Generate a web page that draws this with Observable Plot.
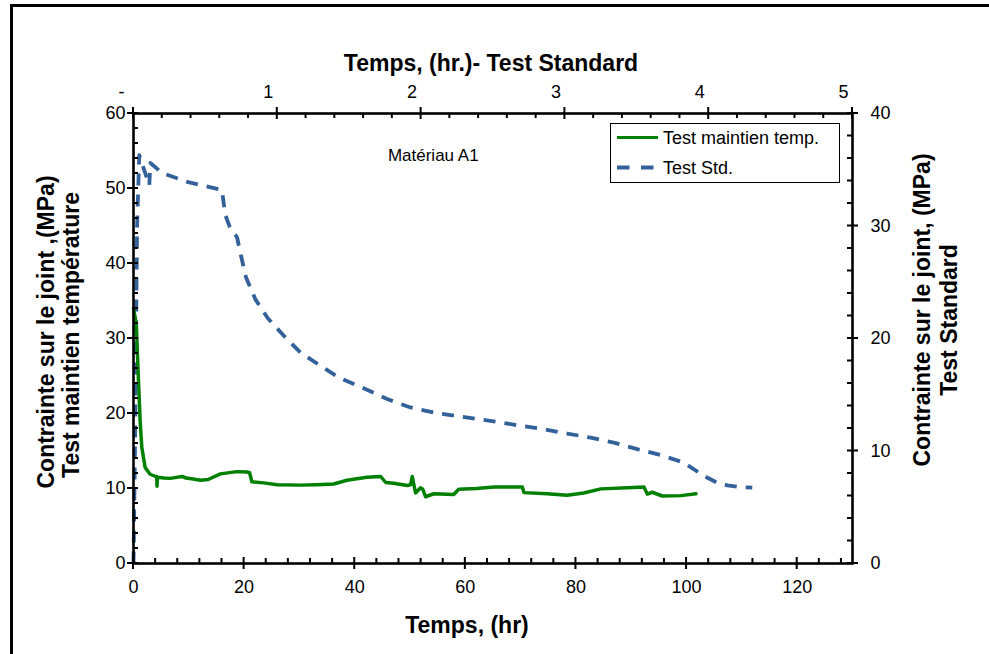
<!DOCTYPE html>
<html><head><meta charset="utf-8">
<script src="https://cdn.jsdelivr.net/npm/d3@7"></script>
<script src="https://cdn.jsdelivr.net/npm/@observablehq/plot@0.6"></script>
<style>html,body{margin:0;padding:0;background:#fff}svg{display:block}</style>
</head><body><div id="chart"></div>
<script>
// ---- data ----
// Test maintien température : bottom axis (hr) / left axis (MPa)
const hoursMaintien = [0, 0.5, 0.9, 1.2, 1.5, 2.1, 3.0, 4.0, 4.2, 4.25, 4.35, 5.5, 6.6, 8.8, 9.5, 10.5, 12.1, 13.5, 15.7, 18.7, 20.5, 21.0, 21.4, 23.5, 26.0, 30.2, 33, 36.2, 38.6, 42.2, 44.7, 45.6, 47, 49.5, 50.1, 50.4, 51.0, 51.9, 52.3, 52.8, 54.3, 57.9, 58.8, 62, 65.2, 70.3, 70.6, 74.8, 78.4, 81.4, 84.5, 89.3, 92.3, 92.9, 93.8, 95.6, 99.0, 101.7];
const stressMaintien = [34.0, 32.0, 24.4, 19.0, 15.5, 12.8, 11.9, 11.6, 11.6, 10.3, 11.5, 11.4, 11.35, 11.6, 11.4, 11.3, 11.1, 11.2, 11.95, 12.25, 12.2, 12.1, 10.9, 10.75, 10.5, 10.45, 10.5, 10.6, 11.1, 11.5, 11.6, 10.8, 10.7, 10.4, 10.5, 11.6, 9.4, 10.1, 9.9, 8.9, 9.3, 9.2, 9.9, 10.0, 10.2, 10.2, 9.45, 9.3, 9.1, 9.4, 9.95, 10.1, 10.2, 9.25, 9.5, 9.0, 9.05, 9.3];
// Test Standard : top axis (hr) / right axis (MPa)
const hoursStd = [0, 0.01, 0.025, 0.04, 0.11, 0.117, 0.2, 0.38, 0.615, 0.638, 0.67, 0.72, 0.747, 0.782, 0.847, 0.934, 1.044, 1.16, 1.299, 1.434, 1.612, 1.763, 1.926, 2.088, 2.25, 2.413, 2.529, 2.691, 2.853, 3.016, 3.178, 3.34, 3.503, 3.665, 3.827, 3.967, 4.06, 4.13, 4.22, 4.303];
const stressStd = [0, 10, 30, 36.3, 33.6, 35.6, 34.7, 33.9, 33.2, 31.0, 29.9, 29.0, 27.4, 25.45, 23.5, 21.8, 20.26, 18.77, 17.58, 16.49, 15.51, 14.62, 13.87, 13.42, 13.1, 12.8, 12.59, 12.24, 11.94, 11.55, 11.19, 10.75, 10.16, 9.65, 8.97, 7.78, 7.18, 6.95, 6.8, 6.74];

const bottomTicks = [0, 20, 40, 60, 80, 100, 120];
const topTicks = [0, 1, 2, 3, 4, 5];
const leftTicks = [0, 10, 20, 30, 40, 50, 60];
const rightTicks = [0, 10, 20, 30, 40];
const seriesNames = ["Test maintien temp.", "Test Std."];
const annotation = "Matériau A1";
const titleTop = "Temps, (hr.)- Test Standard";
const titleBottom = "Temps, (hr)";
const titleLeft = ["Contrainte sur le joint ,(MPa)", "Test maintien température"];
const titleRight = ["Contrainte sur le joint, (MPa)", "Test Standard"];

// ---- scales / layout ----
const X_MAX = 130, Y_MAX = 60, TOP_MAX = 5, RIGHT_MAX = 40;
const kx = X_MAX / TOP_MAX;   // top hr -> bottom hr
const ky = Y_MAX / RIGHT_MAX; // right MPa -> left MPa
const FONT = "'Liberation Sans', Arial, Helvetica, sans-serif";
const GREEN = "#008000", BLUE = "#33629b";
const W = 989, H = 654, ML = 133, MR = 137, MT = 113, MB = 91;

const maint = hoursMaintien.map((t, i) => ({t, v: stressMaintien[i]}));
const std = hoursStd.map((t, i) => ({t: t * kx, v: stressStd[i] * ky}));

const bottomMinor = d3.range(4, X_MAX, 4).filter(d => d % 20 !== 0);
const topMinor = d3.range(1, TOP_MAX * 5).filter(d => d % 5 !== 0).map(d => d / 5 * kx);
const leftMinor = d3.range(2, Y_MAX, 2).filter(d => d % 10 !== 0);
const rightMinor = d3.range(2, RIGHT_MAX, 2).filter(d => d % 10 !== 0).map(d => d * ky);

const plot = Plot.plot({
  width: W, height: H,
  marginLeft: ML, marginRight: MR, marginTop: MT, marginBottom: MB,
  style: {fontFamily: FONT, fontSize: "18px", color: "#000", background: "#fff", overflow: "visible"},
  x: {domain: [0, X_MAX]},
  y: {domain: [0, Y_MAX]},
  marks: [
    Plot.line(std, {x: "t", y: "v", stroke: BLUE, strokeWidth: 3.8, strokeDasharray: "12,9", strokeLinecap: "butt"}),
    Plot.line(maint, {x: "t", y: "v", stroke: GREEN, strokeWidth: 3.5}),
    Plot.text([annotation], {x: 46, y: 54.45, text: d => d, textAnchor: "start", lineAnchor: "middle", fontSize: 17, fill: "#000"}),
    Plot.frame({stroke: "#000", strokeWidth: 2.6}),
    // tick labels
    Plot.axisX(bottomTicks, {anchor: "bottom", tickSize: 0, tickPadding: 17, fontSize: 18, label: null}),
    Plot.axisX(topTicks.map(d => d * kx), {anchor: "top", tickSize: 0, tickPadding: 16, fontSize: 18, label: null,
      textAnchor: "end", dx: -4,
      tickFormat: d => { const h = Math.round(d / kx); return h === 0 ? "-\u00a0" : String(h); }}),
    Plot.axisY(leftTicks, {anchor: "left", tickSize: 0, tickPadding: 8, fontSize: 18, label: null}),
    Plot.axisY(rightTicks.map(d => d * ky), {anchor: "right", tickSize: 0, tickPadding: 18, fontSize: 18, label: null,
      tickFormat: d => String(Math.round(d / ky))})
  ]
});
document.getElementById("chart").appendChild(plot);

const svg = d3.select(plot);
const sx = plot.scale("x"), sy = plot.scale("y");
const x0 = sx.apply(0), x1 = sx.apply(X_MAX), y0 = sy.apply(0), y1 = sy.apply(Y_MAX);

// tick marks drawn from Plot's own scales
const tk = svg.append("g").attr("stroke", "#000").attr("stroke-width", 2);
const vt = (vals, ya, yb) => vals.forEach(v => { const p = sx.apply(v); tk.append("line").attr("x1", p).attr("x2", p).attr("y1", ya).attr("y2", yb); });
const ht = (vals, xa, xb) => vals.forEach(v => { const p = sy.apply(v); tk.append("line").attr("y1", p).attr("y2", p).attr("x1", xa).attr("x2", xb); });
vt(bottomMinor, y0 - 5, y0);
vt(bottomTicks, y0 - 6, y0 + 6);
vt(topMinor, y1, y1 + 5);
vt(topTicks.map(d => d * kx), y1 - 6, y1 + 6);
ht(leftMinor, x0, x0 + 5);
ht(leftTicks, x0 - 6, x0 + 5);
ht(rightMinor, x1 - 5, x1);
ht(rightTicks.map(d => d * ky), x1 - 5, x1 + 6);

// outer frame (left + top visible)
svg.append("path").attr("d", `M11.5,${H} V5.5 H${W}`).attr("fill", "none").attr("stroke", "#000").attr("stroke-width", 3);

// titles
const tg = svg.append("g").attr("font-family", FONT).attr("font-weight", "bold").attr("font-size", 23).attr("fill", "#000").attr("text-anchor", "middle");
tg.append("text").attr("x", 491).attr("y", 71).text(titleTop);
tg.append("text").attr("x", 467).attr("y", 633).text(titleBottom);
tg.append("text").attr("transform", "translate(46,332) rotate(-90)").attr("dy", "0.35em").text(titleLeft[0]);
tg.append("text").attr("transform", "translate(71,335) rotate(-90)").attr("dy", "0.35em").text(titleLeft[1]);
tg.append("text").attr("transform", "translate(922,310) rotate(-90)").attr("dy", "0.35em").text(titleRight[0]);
tg.append("text").attr("transform", "translate(949,320) rotate(-90)").attr("dy", "0.35em").text(titleRight[1]);

// legend
const lg = svg.append("g").attr("font-family", FONT).attr("font-size", 18).attr("fill", "#000").attr("text-anchor", "start");
lg.append("rect").attr("x", 610.5).attr("y", 123.5).attr("width", 229).attr("height", 59).attr("fill", "#fff").attr("stroke", "#000").attr("stroke-width", 1);
lg.append("line").attr("x1", 617).attr("x2", 658).attr("y1", 137.5).attr("y2", 137.5).attr("stroke", GREEN).attr("stroke-width", 3.2);
lg.append("line").attr("x1", 617).attr("x2", 654).attr("y1", 167.5).attr("y2", 167.5).attr("stroke", BLUE).attr("stroke-width", 3.8).attr("stroke-dasharray", "12.5,11.5");
lg.append("text").attr("x", 663).attr("y", 137.5).attr("dy", "0.35em").text(seriesNames[0]);
lg.append("text").attr("x", 663).attr("y", 167.5).attr("dy", "0.35em").text(seriesNames[1]);
</script>
</body></html>
